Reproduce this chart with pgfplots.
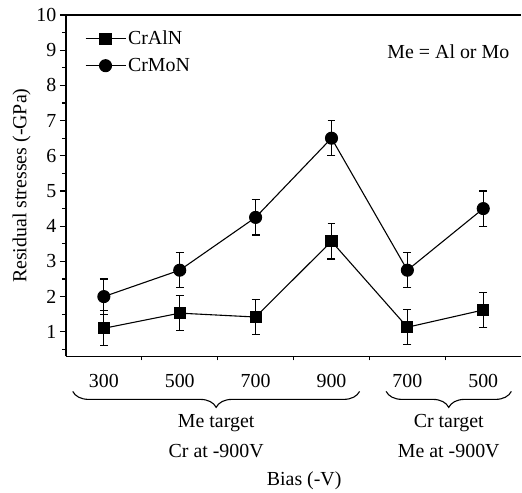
\documentclass[border=0pt]{standalone}
\usepackage{pgfplots}
\pgfplotsset{compat=1.18}
\usepackage{fontspec}
\setmainfont{Liberation Serif}
\usetikzlibrary{decorations.pathreplacing}

\begin{document}
\begin{tikzpicture}[font=\fontsize{20}{24}\selectfont]
\begin{axis}[
    scale only axis,
    width=456bp, height=342bp,
    xmin=-0.5, xmax=5.5,
    ymin=0.3, ymax=10,
    axis x line*=bottom,
    axis y line*=left,
    axis line style={line width=1.6pt, -},
    xtick={0,...,5},
    xticklabels={300,500,700,900,700,500},
    minor xtick={0.5,1.5,2.5,3.5,4.5},
    ytick={1,...,10},
    minor ytick={0.5,1.5,...,9.5},
    major tick length=6bp,
    minor tick length=4bp,
    xtick style={draw=none},
    minor x tick style={draw=black, line width=1.2pt},
    tick style={line width=1.2pt, black},
    tick align=outside,
    tick label style={font=\fontsize{20}{24}\selectfont},
    xticklabel style={yshift=-8bp},
    /pgf/number format/assume math mode=true,
    ylabel={Residual stresses (-GPa)},
    ylabel style={yshift=-1bp},
    clip=false,
    legend style={draw=none, fill=none, at={(0.035,0.965)}, anchor=north west,
        row sep=8bp, font=\fontsize{20}{24}\selectfont},
    legend cell align=left,
    legend image code/.code={\draw[mark repeat=2, mark phase=2]
        plot coordinates {(0bp,0bp) (20bp,0bp) (40bp,0bp)};},
]
\draw[line width=1.6pt] (rel axis cs:0,1) -- (rel axis cs:1,1);

\addplot[black, line width=1.1pt, mark=square*, mark size=5.5bp,
    error bars/.cd, y dir=both, y explicit,
    error bar style={line width=1.2pt},
    error mark options={rotate=90, mark size=4bp, line width=1.2pt}]
    coordinates {
    (0,1.10) +- (0,0.5)
    (1,1.53) +- (0,0.5)
    (2,1.42) +- (0,0.5)
    (3,3.57) +- (0,0.5)
    (4,1.13) +- (0,0.5)
    (5,1.62) +- (0,0.5)
};
\addlegendentry{CrAlN}

\addplot[black, line width=1.1pt, mark=*, mark size=6bp,
    error bars/.cd, y dir=both, y explicit,
    error bar style={line width=1.2pt},
    error mark options={rotate=90, mark size=4bp, line width=1.2pt}]
    coordinates {
    (0,2.00) +- (0,0.5)
    (1,2.75) +- (0,0.5)
    (2,4.25) +- (0,0.5)
    (3,6.50) +- (0,0.5)
    (4,2.75) +- (0,0.5)
    (5,4.50) +- (0,0.5)
};
\addlegendentry{CrMoN}

\node at (axis cs:4.54,8.95) {Me = Al or Mo};

\draw[line width=1.1pt, decorate, decoration={brace, mirror, amplitude=16bp, aspect=0.5}]
    ([yshift=-35bp]axis cs:-0.41,0.3) -- ([yshift=-35bp]axis cs:3.37,0.3)
    node[midway, below=19bp, align=center]
    {Me target\\[6bp]Cr at -900V};
\draw[line width=1.1pt, decorate, decoration={brace, mirror, amplitude=16bp, aspect=0.5}]
    ([yshift=-35bp]axis cs:3.72,0.3) -- ([yshift=-35bp]axis cs:5.37,0.3)
    node[midway, below=19bp, align=center]
    {Cr target\\[6bp]Me at -900V};
\node at ([yshift=-124bp]axis cs:2.64,0.3) {Bias (-V)};

\path ([shift={(-66bp,-136bp)}]rel axis cs:0,0) ([yshift=15bp]rel axis cs:1,1);
\end{axis}
\end{tikzpicture}
\end{document}
